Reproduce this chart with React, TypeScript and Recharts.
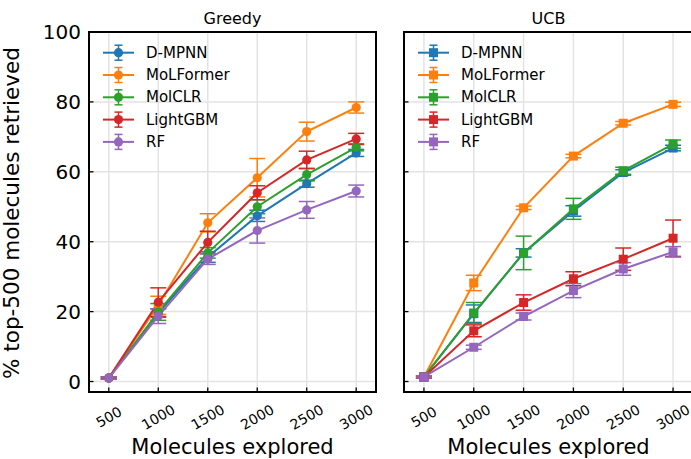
import {
  CartesianGrid,
  ErrorBar,
  Line,
  LineChart,
  ReferenceArea,
  XAxis,
  YAxis,
} from "recharts";

const steps = [500, 1000, 1500, 2000, 2500, 3000];
const yTicks = [0, 20, 40, 60, 80, 100];
const models = ["D-MPNN", "MoLFormer", "MolCLR", "LightGBM", "RF"];
const modelKeys = ["dmpnn", "molformer", "molclr", "lgbm", "rf"];
const colors = ["#1f77b4", "#ff7f0e", "#2ca02c", "#d62728", "#9467bd"];

// Greedy acquisition: mean % of top-500 retrieved
const greedyDmpnn = [1.0, 19.6, 35.6, 47.4, 56.6, 65.4];
const greedyMolformer = [1.0, 21.8, 45.4, 58.3, 71.5, 78.4];
const greedyMolclr = [1.0, 19.9, 36.8, 50.0, 59.2, 67.0];
const greedyLgbm = [1.0, 22.7, 39.8, 54.0, 63.4, 69.4];
const greedyRf = [1.0, 18.7, 35.0, 43.2, 49.1, 54.5];

const greedyDmpnnErr = [0.3, 1.2, 1.5, 1.6, 1.0, 1.0];
const greedyMolformerErr = [0.3, 2.6, 2.6, 5.5, 2.7, 1.6];
const greedyMolclrErr = [0.3, 2.4, 1.5, 2.0, 1.8, 1.0];
const greedyLgbmErr = [0.3, 4.1, 3.2, 2.0, 2.5, 1.6];
const greedyRfErr = [0.3, 2.1, 1.5, 3.6, 2.4, 1.7];

// UCB acquisition
const ucbDmpnn = [1.3, 19.4, 36.8, 48.8, 59.8, 66.8];
const ucbMolformer = [1.3, 28.2, 49.7, 64.5, 73.9, 79.3];
const ucbMolclr = [1.3, 19.6, 36.8, 49.4, 60.3, 67.9];
const ucbLgbm = [1.3, 14.5, 22.6, 29.4, 35.0, 41.0];
const ucbRf = [1.3, 9.8, 18.6, 26.0, 32.2, 37.1];

const ucbDmpnnErr = [0.3, 2.5, 1.2, 1.5, 0.8, 0.8];
const ucbMolformerErr = [0.3, 2.2, 0.5, 0.5, 0.5, 0.6];
const ucbMolclrErr = [0.3, 3.0, 4.8, 3.0, 1.0, 1.2];
const ucbLgbmErr = [0.3, 1.7, 2.2, 2.0, 3.2, 5.2];
const ucbRfErr = [0.3, 0.6, 1.0, 2.0, 1.8, 1.5];

const greedyMeans = [greedyDmpnn, greedyMolformer, greedyMolclr, greedyLgbm, greedyRf];
const greedyErrs = [greedyDmpnnErr, greedyMolformerErr, greedyMolclrErr, greedyLgbmErr, greedyRfErr];
const ucbMeans = [ucbDmpnn, ucbMolformer, ucbMolclr, ucbLgbm, ucbRf];
const ucbErrs = [ucbDmpnnErr, ucbMolformerErr, ucbMolclrErr, ucbLgbmErr, ucbRfErr];

const buildRows = (means: number[][], errs: number[][]) =>
  steps.map((step, i) => {
    const row: Record<string, number> = { step };
    modelKeys.forEach((k, m) => {
      row[k] = means[m][i];
      row[`${k}Err`] = errs[m][i];
    });
    return row;
  });

const greedyRows = buildRows(greedyMeans, greedyErrs);
const ucbRows = buildRows(ucbMeans, ucbErrs);

const FONT = "DejaVu Sans";

type Marker = "circle" | "square";

function MarkerShape({ cx, cy, color, marker }: { cx: number; cy: number; color: string; marker: Marker }) {
  if (marker === "square") {
    return <rect x={cx - 4.5} y={cy - 4.5} width={9} height={9} fill={color} />;
  }
  return <circle cx={cx} cy={cy} r={4.6} fill={color} />;
}

const XTick = ({ x, y, payload }: any) => (
  <g>
    <line x1={x} x2={x} y1={y} y2={y - 4.5} stroke="#000" strokeWidth={1.3} />
    <text
      x={x}
      y={y + 25}
      transform={`rotate(-30 ${x} ${y + 25})`}
      textAnchor="middle"
      dominantBaseline="central"
      fontSize={14}
      fontFamily={FONT}
      fill="#000"
    >
      {payload.value}
    </text>
  </g>
);

const makeYTick = (showLabel: boolean) => ({ x, y, payload }: any) => (
  <g>
    <line x1={x} x2={x + 4.5} y1={y} y2={y} stroke="#000" strokeWidth={1.3} />
    {showLabel && (
      <text
        x={x - 8}
        y={y}
        textAnchor="end"
        dominantBaseline="central"
        fontSize={20}
        fontFamily={FONT}
        fill="#000"
      >
        {payload.value}
      </text>
    )}
  </g>
);

function LegendBox({ marker }: { marker: Marker }) {
  return (
    <svg width={150} height={118} style={{ display: "block", overflow: "visible" }}>
      {models.map((name, i) => {
        const cy = 14.7 + i * 22.3;
        const c = colors[i];
        return (
          <g key={name}>
            <line x1={8} x2={39} y1={cy} y2={cy} stroke={c} strokeWidth={2} />
            <line x1={23.5} x2={23.5} y1={cy - 7.5} y2={cy + 7.5} stroke={c} strokeWidth={1.5} />
            <line x1={19.5} x2={27.5} y1={cy - 7.5} y2={cy - 7.5} stroke={c} strokeWidth={1.5} />
            <line x1={19.5} x2={27.5} y1={cy + 7.5} y2={cy + 7.5} stroke={c} strokeWidth={1.5} />
            <MarkerShape cx={23.5} cy={cy} color={c} marker={marker} />
            <text x={51} y={cy} dominantBaseline="central" fontSize={15} fontFamily={FONT} fill="#000">
              {name}
            </text>
          </g>
        );
      })}
    </svg>
  );
}

interface PanelProps {
  title: string;
  rows: Record<string, number>[];
  marker: Marker;
  left: number;
  width: number;
  yAxisWidth: number;
  marginRight: number;
  showYLabels: boolean;
}

function Panel({ title, rows, marker, left, width, yAxisWidth, marginRight, showYLabels }: PanelProps) {
  const plotCenter = yAxisWidth + (width - yAxisWidth - marginRight) / 2;
  return (
    <div style={{ position: "absolute", left, top: 0, width, height: 459 }}>
      <div
        style={{
          position: "absolute",
          left: plotCenter - 60,
          width: 120,
          top: 9,
          textAlign: "center",
          fontFamily: FONT,
          fontSize: 16,
          lineHeight: "20px",
          color: "#000",
        }}
      >
        {title}
      </div>
      <LineChart
        width={width}
        height={459}
        data={rows}
        margin={{ top: 32, right: marginRight, bottom: 0, left: 0 }}
      >
        <CartesianGrid stroke="#e3e3e3" strokeWidth={1.5} />
        <XAxis
          dataKey="step"
          type="number"
          domain={[300, 3200]}
          ticks={steps}
          height={67}
          tickSize={0}
          tickMargin={0}
          axisLine={false}
          tick={<XTick />}
          interval={0}
          allowDataOverflow
          label={{
            content: ({ viewBox }: any) => (
              <text
                x={viewBox.x + viewBox.width / 2}
                y={454}
                textAnchor="middle"
                fontSize={21}
                fontFamily={FONT}
                fill="#000"
              >
                Molecules explored
              </text>
            ),
          }}
        />
        <YAxis
          type="number"
          domain={[-3, 100]}
          ticks={yTicks}
          width={yAxisWidth}
          tickSize={0}
          tickMargin={0}
          axisLine={false}
          interval={0}
          allowDataOverflow
          tick={makeYTick(showYLabels)}
          label={
            showYLabels
              ? {
                  content: () => (
                    <text
                      x={19}
                      y={213}
                      transform="rotate(-90 19 213)"
                      textAnchor="middle"
                      fontSize={21.5}
                      fontFamily={FONT}
                      fill="#000"
                    >
                      % top-500 molecules retrieved
                    </text>
                  ),
                }
              : undefined
          }
        />
        <ReferenceArea
          x1={300}
          x2={3200}
          y1={-3}
          y2={100}
          fill="none"
          stroke="#000"
          strokeWidth={2}
          ifOverflow="visible"
        />
        {modelKeys.map((k, i) => (
          <Line
            key={k}
            dataKey={k}
            name={models[i]}
            stroke={colors[i]}
            strokeWidth={2}
            isAnimationActive={false}
            activeDot={false}
            dot={(p: any) => (
              <MarkerShape key={`${k}-${p.index}`} cx={p.cx} cy={p.cy} color={colors[i]} marker={marker} />
            )}
          >
            <ErrorBar
              dataKey={`${k}Err`}
              direction="y"
              width={8}
              stroke={colors[i]}
              strokeWidth={1.5}
              isAnimationActive={false}
            />
          </Line>
        ))}
      </LineChart>
      <div style={{ position: "absolute", left: yAxisWidth + 6, top: 38 }}>
        <LegendBox marker={marker} />
      </div>
    </div>
  );
}

export default function App() {
  return (
    <div
      style={{
        position: "absolute",
        left: 0,
        top: 0,
        width: 691,
        height: 459,
        overflow: "hidden",
        background: "#fff",
        fontFamily: FONT,
      }}
    >
      <Panel
        title="Greedy"
        rows={greedyRows}
        marker="circle"
        left={0}
        width={380}
        yAxisWidth={89}
        marginRight={4}
        showYLabels
      />
      <Panel
        title="UCB"
        rows={ucbRows}
        marker="square"
        left={380}
        width={313}
        yAxisWidth={24}
        marginRight={0}
        showYLabels={false}
      />
    </div>
  );
}
